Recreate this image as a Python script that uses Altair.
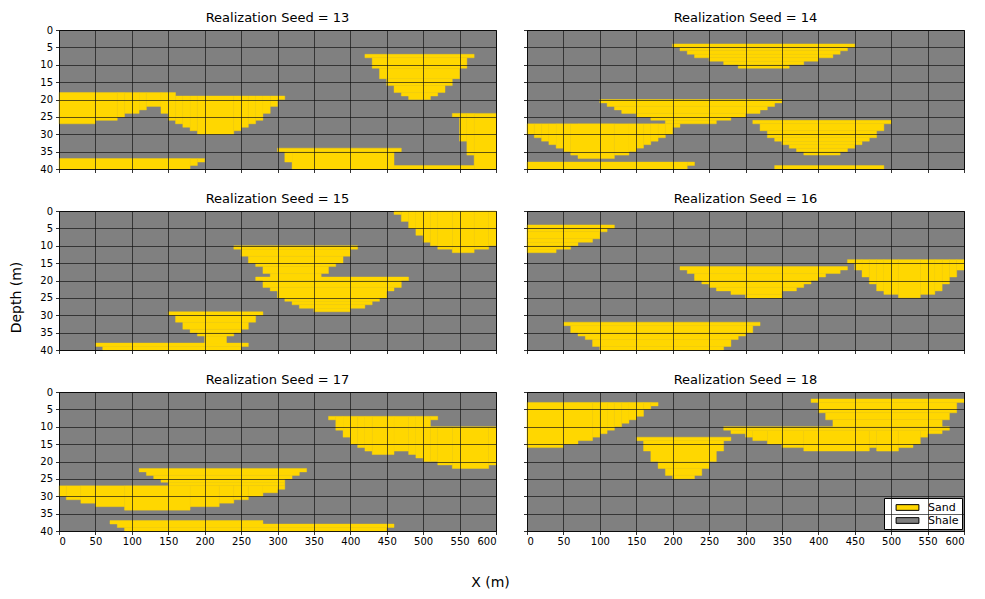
import altair as alt
import pandas as pd

# Sand bodies per realization: [x_left, x_right, depth_top, depth_bottom] (m)
SAND_13 = [
    [420, 570, 7, 8], [430, 560, 8, 11], [440, 550, 11, 14], [450, 540, 14, 16],
    [460, 530, 16, 18], [470, 520, 18, 19], [480, 510, 19, 20],
    [0, 50, 18, 27], [50, 80, 18, 26], [80, 90, 18, 25], [90, 110, 18, 24],
    [110, 120, 18, 23], [120, 140, 18, 22], [140, 150, 18, 24], [150, 160, 18, 26],
    [160, 170, 19, 27], [170, 180, 19, 28], [180, 190, 19, 29], [190, 240, 19, 30],
    [240, 250, 19, 29], [250, 260, 19, 28], [260, 270, 19, 27], [270, 280, 19, 26],
    [280, 290, 19, 24], [290, 300, 19, 22], [300, 310, 19, 20],
    [540, 550, 24, 25], [550, 560, 24, 32], [560, 570, 24, 36], [570, 600, 24, 40],
    [300, 470, 34, 35], [310, 320, 35, 38], [320, 460, 35, 40], [460, 570, 39, 40],
    [0, 180, 37, 40], [180, 190, 37, 39], [190, 200, 37, 38],
]
SAND_14 = [
    [200, 450, 4, 5], [210, 440, 5, 6], [220, 430, 6, 7], [230, 420, 7, 8],
    [250, 400, 8, 9], [270, 380, 9, 10], [290, 360, 10, 11],
    [100, 350, 20, 21], [110, 340, 21, 22], [120, 330, 22, 23], [130, 320, 23, 24],
    [150, 300, 24, 25], [170, 280, 25, 26], [190, 260, 26, 27], [200, 210, 27, 28],
    [0, 10, 27, 30], [10, 20, 27, 31], [20, 30, 27, 32], [30, 40, 27, 33],
    [40, 50, 27, 34], [50, 60, 27, 35], [60, 70, 27, 36], [70, 120, 27, 37],
    [120, 140, 27, 36], [140, 150, 27, 35], [150, 160, 27, 34], [160, 170, 27, 33],
    [170, 180, 27, 32], [180, 190, 27, 31], [190, 200, 27, 30],
    [310, 500, 26, 27], [320, 490, 27, 29], [330, 480, 29, 31], [340, 470, 31, 32],
    [350, 460, 32, 33], [360, 450, 33, 34], [370, 440, 34, 35], [380, 430, 35, 36],
    [0, 220, 38, 40], [220, 230, 38, 39],
    [340, 490, 39, 40],
]
SAND_15 = [
    [460, 470, 0, 1], [470, 480, 0, 3], [480, 490, 0, 5], [490, 500, 0, 7],
    [500, 510, 0, 9], [510, 520, 0, 10], [520, 540, 0, 11], [540, 570, 0, 12],
    [570, 590, 0, 11], [590, 600, 0, 10],
    [240, 410, 10, 11], [250, 400, 11, 13], [260, 390, 13, 15], [270, 380, 15, 16],
    [280, 370, 16, 18], [290, 360, 18, 19],
    [270, 480, 19, 20], [280, 470, 20, 22], [290, 460, 22, 23], [300, 450, 23, 25],
    [310, 440, 25, 26], [320, 430, 26, 27], [330, 420, 27, 28], [350, 400, 28, 29],
    [150, 280, 29, 30], [160, 270, 30, 32], [170, 260, 32, 34], [180, 250, 34, 35],
    [190, 240, 35, 36], [200, 230, 36, 38],
    [50, 260, 38, 39], [60, 250, 39, 40],
]
SAND_16 = [
    [0, 120, 4, 5], [0, 110, 5, 6], [0, 100, 6, 8], [0, 90, 8, 9],
    [0, 70, 9, 10], [0, 60, 10, 11], [0, 40, 11, 12],
    [210, 440, 16, 17], [220, 430, 17, 18], [230, 410, 18, 19], [230, 400, 19, 20],
    [240, 390, 20, 21], [250, 380, 21, 22], [260, 370, 22, 23], [280, 350, 23, 24],
    [300, 350, 24, 25],
    [440, 450, 14, 15], [450, 460, 14, 17], [460, 470, 14, 19], [470, 480, 14, 21],
    [480, 490, 14, 23], [490, 510, 14, 24], [510, 540, 14, 25], [540, 560, 14, 24],
    [560, 570, 14, 23], [570, 580, 14, 21], [580, 590, 14, 19], [590, 600, 14, 17],
    [50, 320, 32, 33], [60, 310, 33, 35], [70, 300, 35, 36], [80, 290, 36, 37],
    [90, 280, 37, 39], [100, 270, 39, 40],
]
SAND_17 = [
    [370, 380, 7, 8], [380, 390, 7, 11], [390, 400, 7, 13], [400, 410, 7, 15],
    [410, 420, 7, 16], [420, 430, 7, 17], [430, 460, 7, 18], [460, 480, 7, 17],
    [480, 490, 7, 18], [490, 500, 7, 19], [500, 510, 7, 20], [510, 520, 7, 8],
    [510, 520, 10, 20], [520, 540, 10, 21], [540, 590, 10, 22], [590, 600, 10, 21],
    [110, 340, 22, 23], [120, 330, 23, 24], [130, 320, 24, 25], [140, 310, 25, 26],
    [150, 310, 26, 27],
    [0, 10, 27, 30], [10, 30, 27, 31], [30, 50, 27, 32], [50, 90, 27, 33],
    [90, 180, 27, 34], [180, 220, 27, 33], [220, 240, 27, 32], [240, 260, 27, 31],
    [260, 280, 27, 30], [280, 300, 27, 29], [300, 310, 27, 28],
    [70, 280, 37, 38], [80, 460, 38, 39], [90, 450, 39, 40],
]
SAND_18 = [
    [0, 50, 3, 16], [50, 70, 3, 15], [70, 90, 3, 14], [90, 100, 3, 13],
    [100, 110, 3, 12], [110, 120, 3, 11], [120, 130, 3, 10], [130, 140, 3, 9],
    [140, 150, 3, 8], [150, 160, 3, 7], [160, 170, 3, 5], [170, 180, 3, 4],
    [150, 280, 13, 14], [160, 270, 14, 17], [170, 260, 17, 20], [180, 250, 20, 22],
    [190, 240, 22, 24], [200, 230, 24, 25],
    [390, 600, 2, 3], [400, 590, 3, 6], [410, 580, 6, 8], [420, 570, 8, 10],
    [270, 580, 10, 11], [280, 300, 11, 12], [300, 310, 11, 13], [310, 330, 11, 14],
    [330, 350, 11, 15], [350, 380, 11, 16], [380, 470, 11, 17], [470, 480, 11, 16],
    [480, 510, 11, 17], [510, 530, 11, 16], [530, 540, 11, 15], [540, 550, 11, 13],
    [550, 570, 11, 12],
]

SEEDS = [13, 14, 15, 16, 17, 18]
SAND = [SAND_13, SAND_14, SAND_15, SAND_16, SAND_17, SAND_18]
FACIES = ["Sand", "Shale"]
FACIES_COLORS = ["#FFD700", "#808080"]
X_TICKS = list(range(0, 601, 50))
Y_TICKS = list(range(0, 41, 5))

W, H = 437, 139
FONT = "DejaVu Sans"


def panel(i, seed, rects):
    df = pd.DataFrame(rects, columns=["x0", "x1", "d0", "d1"])
    df["facies"] = "Sand"
    row, col = divmod(i, 2)
    common = dict(
        grid=True, gridColor="#111111", gridOpacity=0.85, gridWidth=0.8,
        tickColor="black", tickSize=3.5, tickWidth=0.8, domain=False,
        labelFontSize=10, labelColor="black", labelFont=FONT, zindex=1,
        title=None,
    )
    xaxis_kw = dict(values=X_TICKS, labels=(row == 2), labelPadding=2, **common)
    yaxis_kw = dict(values=Y_TICKS, labels=(col == 0), labelPadding=3, **common)
    if i == 4:
        xaxis_kw.update(title="X (m)", titleX=431, titleY=51, titleAlign="center",
                        titleBaseline="middle", titleFontSize=14,
                        titleFontWeight="normal", titleFont=FONT, titleColor="black")
    if i == 2:
        yaxis_kw.update(title="Depth (m)", titleX=-43, titleY=86, titleAngle=-90,
                        titleAlign="center", titleBaseline="middle",
                        titleFontSize=14, titleFontWeight="normal",
                        titleFont=FONT, titleColor="black")
    legend = None
    if i == 5:
        legend = alt.Legend(
            title=None, orient="bottom-right", offset=2, fillColor="white",
            strokeColor="black", padding=3, cornerRadius=0,
            symbolType="M-2,-0.5L2,-0.5L2,0.5L-2,0.5Z", symbolSize=130,
            symbolStrokeColor="black", symbolStrokeWidth=1, symbolOpacity=1,
            symbolOffset=14, labelFontSize=11, labelFont=FONT, labelColor="black",
            rowPadding=1, labelOffset=14, labelLimit=200,
        )
    c = alt.Chart(df).mark_rect(strokeWidth=0.4, stroke="#FFD700").encode(
        x=alt.X("x0:Q", scale=alt.Scale(domain=[0, 600], nice=False, zero=False),
                axis=alt.Axis(**xaxis_kw)),
        x2="x1:Q",
        y=alt.Y("d0:Q", scale=alt.Scale(domain=[0, 40], reverse=True, nice=False),
                axis=alt.Axis(**yaxis_kw)),
        y2="d1:Q",
        color=alt.Color("facies:N",
                        scale=alt.Scale(domain=FACIES, range=FACIES_COLORS),
                        legend=legend),
    ).properties(
        width=W, height=H,
        view=alt.ViewBackground(fill="#808080", stroke="black", strokeWidth=1),
        title=alt.TitleParams(f"Realization Seed = {seed}", fontSize=13,
                              fontWeight="normal", font=FONT, color="black",
                              offset=(0 if col == 0 else 5)),
    )
    return c


charts = [panel(i, s, r) for i, (s, r) in enumerate(zip(SEEDS, SAND))]

chart = alt.concat(*charts, columns=2, spacing={"row": 17, "column": 12}).resolve_scale(
    color="independent"
).resolve_legend(color="independent").properties(
    padding={"left": 8, "top": 11, "right": 5, "bottom": 5}
).configure(font=FONT, background="white")

chart.save("out.html", embed_options={"renderer": "svg", "actions": False})
